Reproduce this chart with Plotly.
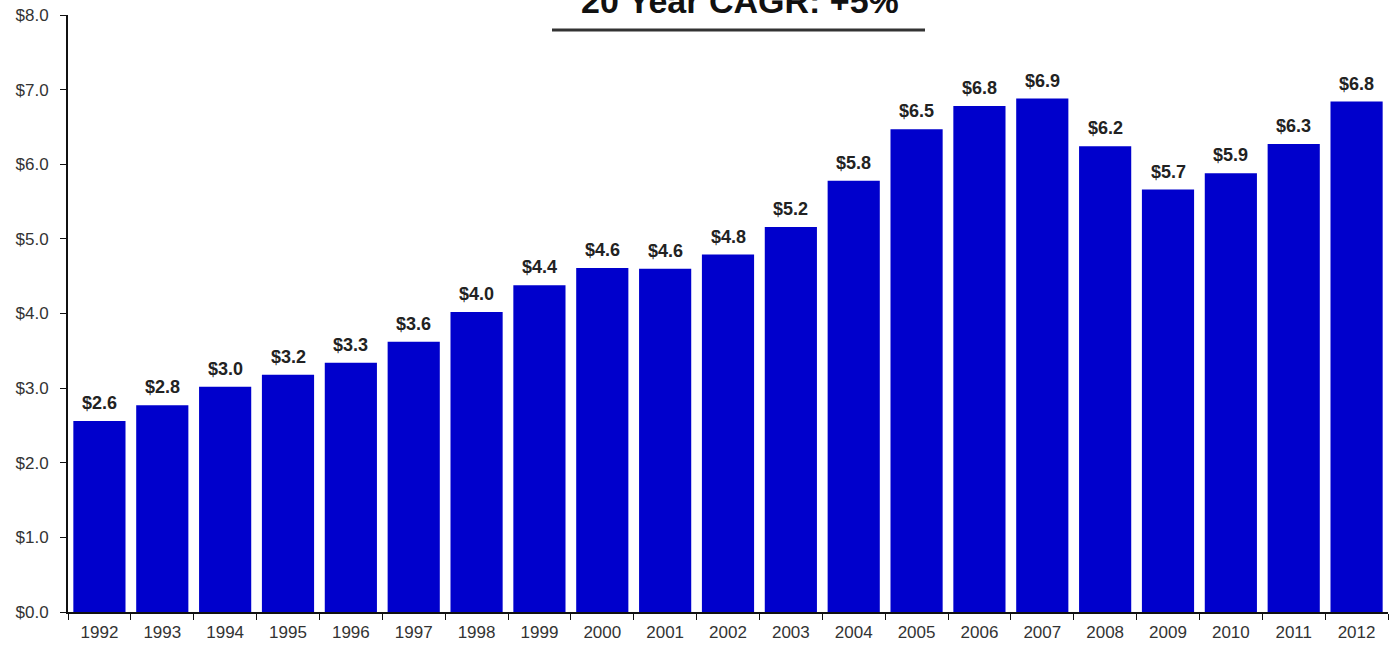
import plotly.graph_objects as go

# Annual values, $ (billions)
years = [str(y) for y in range(1992, 2013)]
values = [2.56, 2.77, 3.02, 3.18, 3.34, 3.62, 4.02, 4.38, 4.61, 4.60, 4.79,
          5.16, 5.78, 6.47, 6.78, 6.88, 6.24, 5.66, 5.88, 6.27, 6.84]
title_text = "20 Year CAGR: +5%"

FONT = "Arial, Liberation Sans, sans-serif"
BAR_COLOR = "#0000CC"

fig = go.Figure(
    go.Bar(
        x=years,
        y=values,
        marker=dict(color=BAR_COLOR, line=dict(width=0)),
        width=0.83,
        hoverinfo="x+y",
    )
)

# Value labels above each bar (x given as category index)
for i, v in enumerate(values):
    fig.add_annotation(
        x=i, y=v, xref="x", yref="y",
        text=f"${v:.1f}",
        showarrow=False,
        yanchor="bottom",
        yshift=6,
        font=dict(family=FONT, size=18, color="#222222", weight="bold"),
    )

# Headline with rule underneath
fig.add_annotation(
    x=0.509, y=1.0, xref="paper", yref="paper",
    text=f"<b>{title_text}</b>",
    showarrow=False,
    xanchor="center", yanchor="bottom",
    yshift=-7,
    font=dict(family=FONT, size=34, color="#111111"),
)
fig.add_shape(
    type="line", xref="paper", yref="paper",
    x0=(552 - 68) / 1320, x1=(925 - 68) / 1320,
    y0=-15, y1=-15,
    ysizemode="pixel", yanchor=1.0,
    line=dict(color="#333333", width=3),
)

fig.update_layout(
    width=1396,
    height=651,
    margin=dict(l=68, r=8, t=15, b=39),
    paper_bgcolor="white",
    plot_bgcolor="white",
    showlegend=False,
    bargap=0.17,
    font=dict(family=FONT, size=17, color="#333333"),
)
fig.update_xaxes(
    type="category",
    range=[-0.5, len(years) - 0.5],
    automargin=False,
    showline=True, linecolor="#111111", linewidth=2,
    ticks="outside", ticklen=6, tickcolor="#111111", tickwidth=1,
    tickson="boundaries",
    ticklabelstandoff=4,
    showgrid=False,
    tickangle=0,
    tickfont=dict(family=FONT, size=17, color="#333333"),
)
fig.update_yaxes(
    range=[0, 8],
    dtick=1,
    automargin=False,
    tickprefix="$",
    tickformat=".1f",
    showline=True, linecolor="#111111", linewidth=2,
    ticks="outside", ticklen=6, tickcolor="#111111", tickwidth=1,
    ticklabelstandoff=8,
    showgrid=False,
    zeroline=False,
    tickfont=dict(family=FONT, size=17, color="#333333"),
)

fig.write_html("out.html")
